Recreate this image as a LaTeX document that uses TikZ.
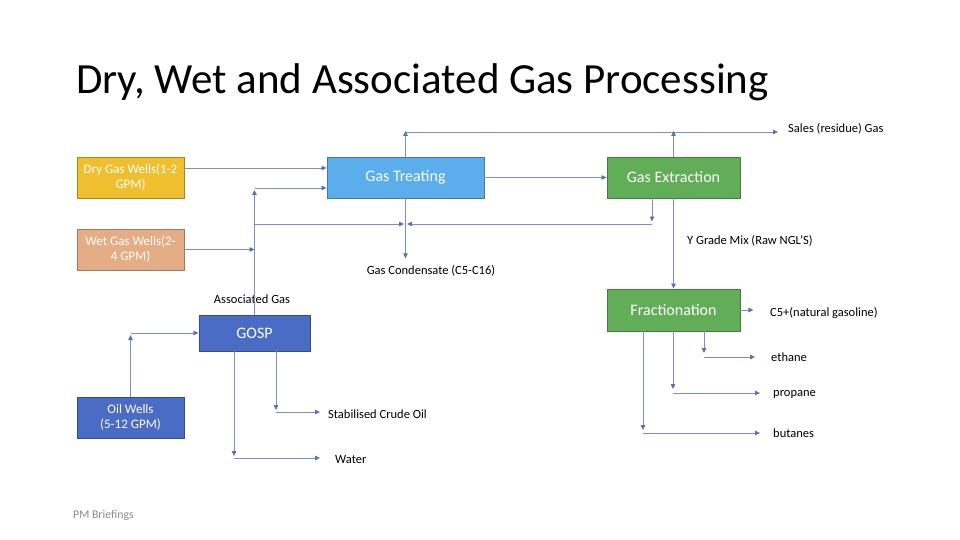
\documentclass[tikz,border=0pt]{standalone}
\usepackage{fontspec}
\setmainfont{Carlito}
\usetikzlibrary{arrows.meta,calc}
\definecolor{cgold}{HTML}{F0BF2F}
\definecolor{ctan}{HTML}{E5AD85}
\definecolor{clblue}{HTML}{5CADEC}
\definecolor{cgreen}{HTML}{62AD58}
\definecolor{cblue}{HTML}{4A6CC5}
\definecolor{cline}{HTML}{7D8FC9}
\definecolor{ctip}{HTML}{5A70B8}
\definecolor{cfoot}{HTML}{8A8A8A}
\tikzset{
  procbox/.style={rectangle, inner sep=0pt, align=center, text=white, line width=0.9pt},
  wellbox/.style={procbox, minimum width=107pt, minimum height=41pt, font=\fontsize{13}{15}\selectfont},
  unitbox/.style={procbox, font=\fontsize{16}{19}\selectfont},
  conn/.style={draw=cline, line width=0.8pt, -{Triangle[length=5pt,width=4.5pt,color=ctip]}},
  plainline/.style={draw=cline, line width=0.8pt},
  lbl/.style={inner sep=0pt, text=black, font=\fontsize{12.5}{15}\selectfont},
}
\begin{document}
\begin{tikzpicture}[x=1pt,y=-1pt]
\useasboundingbox[fill=white] (0,0) rectangle (960,540);

% title and footer
\node[anchor=base west, inner sep=0pt, font=\fontsize{43}{50}\selectfont] (title) at (76,94) {Dry, Wet and Associated Gas Processing};
\node[anchor=west, inner sep=0pt, text=cfoot, font=\fontsize{11.8}{14}\selectfont] (foot) at (73,515) {PM Briefings};

% boxes
\node[wellbox, fill=cgold, draw=cgold!70!black] (dry) at (130.5,177.5) {Dry Gas Wells(1-2\\GPM)};
\node[wellbox, fill=ctan, draw=ctan!70!black] (wet) at (130.5,249.5) {Wet Gas Wells(2-\\4 GPM)};
\node[wellbox, fill=cblue, draw=cblue!70!black] (oil) at (130.5,417.5) {Oil Wells\\(5-12 GPM)};
\node[unitbox, fill=clblue, draw=clblue!70!black, minimum width=157pt, minimum height=41pt] (gt) at (405.5,177.5) {Gas Treating};
\node[unitbox, fill=cgreen, draw=cgreen!70!black, minimum width=133pt, minimum height=41pt] (ge) at (673.5,177.5) {Gas Extraction};
\node[unitbox, fill=cgreen, draw=cgreen!70!black, minimum width=133pt, minimum height=42pt] (frac) at (673.5,310) {Fractionation};
\node[unitbox, fill=cblue, draw=cblue!70!black, minimum width=111pt, minimum height=36pt] (gosp) at (254.5,333) {GOSP};

% labels
\node[lbl, anchor=west] (sales) at (788,129) {Sales (residue) Gas};
\node[lbl, anchor=west] (ygrade) at (687,241) {Y Grade Mix (Raw NGL’S)};
\node[lbl] (cond) at (431,271) {Gas Condensate (C5-C16)};
\node[lbl] (assoc) at (252,299) {Associated Gas};
\node[lbl, anchor=west] (stab) at (328,414) {Stabilised Crude Oil};
\node[lbl, anchor=west] (water) at (335,460) {Water};
\node[lbl, anchor=west] (c5) at (770,313) {C5+(natural gasoline)};
\node[lbl, anchor=west] (eth) at (771,357) {ethane};
\node[lbl, anchor=west] (prop) at (773,394) {propane};
\node[lbl, anchor=west] (but) at (773,433) {butanes};

% helper coordinates
\coordinate (ytop) at (0,132);
\coordinate (ybus) at (0,224);
\coordinate (gtin1) at ($(gt.west)+(0,-9.5)$);
\coordinate (gtin2) at ($(gt.west)+(0,10.5)$);
\coordinate (geo) at ($(ge.south)+(-21.5,0)$);
\coordinate (go1) at ($(gosp.south)+(21.5,0)$);
\coordinate (go2) at ($(gosp.south)+(-20.5,0)$);
\coordinate (fr1) at ($(frac.south)+(30.5,0)$);
\coordinate (fr2) at ($(frac.south)+(-0.5,0)$);
\coordinate (fr3) at ($(frac.south)+(-30.5,0)$);
\coordinate (salesend) at (778,132);

% connectors: inlet side
\draw[conn] (dry.east |- gtin1) -- (gtin1);
\draw[conn] (gosp.north) -- ($(gosp.north |- gtin2)+(0,2)$);
\draw[plainline] (gosp.north |- gtin2) -- ($(gosp.north |- gtin2)+(2,0)$);
\draw[conn] ($(gosp.north |- gtin2)+(0,0)$) -- (gtin2);
\draw[conn] (wet.east) -- (wet.east -| gosp.north);
\draw[conn] (gosp.north |- ybus) -- ($(gt.south |- ybus)+(-1.5,0)$);
\draw[conn] (geo) -- ($(geo |- ybus)+(0,-2.5)$);
\draw[conn] (geo |- ybus) -- ($(gt.south |- ybus)+(1.5,0)$);
\draw[conn] (gt.south) -- ($(gt.south |- cond.north)+(0,-7)$);

% top sales gas
\draw[conn] (gt.north) -- ($(gt.north |- ytop)+(0,-1)$);
\draw[conn] (gt.north |- ytop) -- (salesend);
\draw[conn] (ge.north) -- ($(ge.north |- ytop)+(0,-1)$);

% main train
\draw[conn] (gt.east) -- (ge.west);
\draw[conn] (ge.south) -- (frac.north);

% oil wells and GOSP
\draw[conn] (oil.north) -- ($(oil.north |- gosp.west)+(0,2)$);
\draw[conn] (oil.north |- gosp.west) -- (gosp.west);
\draw[conn] (go1) -- ($(go1 |- stab.west)+(0,-4)$);
\draw[conn] ($(go1 |- stab.west)+(0,-2)$) -- ($(stab.west)+(-8,-2)$);
\draw[conn] (go2) -- ($(go2 |- water.west)+(0,-4)$);
\draw[conn] ($(go2 |- water.west)+(0,-2)$) -- ($(water.west)+(-15,-2)$);

% fractionation products
\draw[conn] (frac.east |- 0,310) -- ++(13,0);
\draw[conn] (fr1) -- ($(fr1 |- eth.west)+(0,-4)$);
\draw[conn] (fr1 |- eth.west) -- ($(eth.west)+(-16,0)$);
\draw[conn] (fr2) -- ($(fr2 |- prop.west)+(0,-5)$);
\draw[conn] ($(fr2 |- prop.west)+(0,-1)$) -- ($(prop.west)+(-13,-1)$);
\draw[conn] (fr3) -- ($(fr3 |- but.west)+(0,-3)$);
\draw[conn] (fr3 |- but.west) -- ($(but.west)+(-13,0)$);
\end{tikzpicture}
\end{document}
